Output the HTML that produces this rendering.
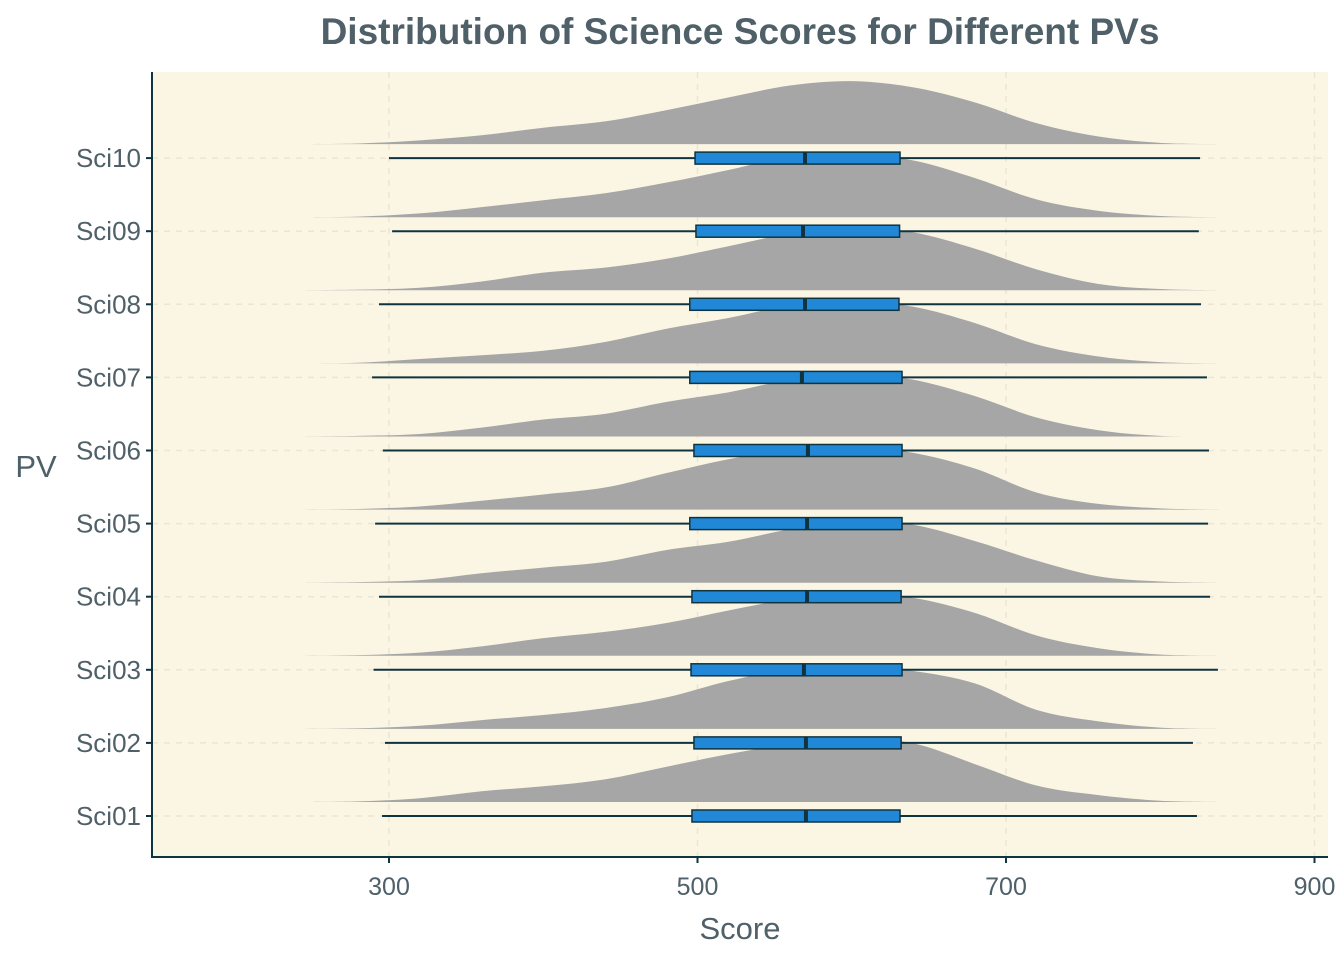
<!DOCTYPE html>
<html><head><meta charset="utf-8"><style>
body{margin:0;background:#fff;}
svg text{font-family:"Liberation Sans",sans-serif;}
</style></head><body>
<svg id="chart" width="1344" height="960">
<text x="740" y="44" text-anchor="middle" font-size="37" font-weight="bold" fill="#4f6069">Distribution of Science Scores for Different PVs</text>
<rect x="152" y="72" width="1176" height="785" fill="#fbf5e3"/>
<g id="grid"></g><g id="marks"></g><g id="axes"></g>
<text x="740" y="939" text-anchor="middle" font-size="31" fill="#4f6069">Score</text>
<text x="36" y="477" text-anchor="middle" font-size="31" fill="#4f6069">PV</text>
</svg>
<script>
const categories=["Sci01","Sci02","Sci03","Sci04","Sci05","Sci06","Sci07","Sci08","Sci09","Sci10"];
const mins=[295.5,297.4,290,293.5,291,296,289,293.5,302,300];
const q1s=[496.4,497.7,495.8,496.4,495,497.7,495,495,499,498.4];
const medians=[570.3,570.3,569,571,571,571.6,567.7,569.7,568.4,569.7];
const q3s=[631.3,632,632.6,632,632.6,632.6,632.6,630.6,631,631.3];
const maxs=[823.8,821.2,837.4,832.3,831,831.6,830.3,826.4,825,825.8];
const xTicks=[300,500,700,900];
// density profiles at scores 240..840 step 40 (relative heights)
const densScores=[240,280,320,360,400,440,480,520,560,600,640,680,720,760,800,840];
const densities=[
[0,0.01,0.06,0.17,0.25,0.36,0.56,0.76,0.92,1.0,0.93,0.6,0.26,0.11,0.02,0],
[0,0.01,0.05,0.14,0.22,0.33,0.5,0.76,0.95,1.0,0.92,0.72,0.3,0.12,0.02,0],
[0,0.01,0.05,0.15,0.28,0.38,0.52,0.72,0.9,1.0,0.92,0.68,0.32,0.12,0.02,0],
[0,0.01,0.04,0.15,0.24,0.33,0.52,0.65,0.85,1.0,0.92,0.66,0.35,0.1,0.02,0],
[0,0.01,0.05,0.14,0.24,0.35,0.58,0.8,0.96,1.0,0.9,0.65,0.27,0.09,0.02,0],
[0,0.01,0.04,0.14,0.27,0.36,0.55,0.7,0.9,1.0,0.9,0.64,0.3,0.1,0.01,0],
[0,0.01,0.07,0.13,0.2,0.34,0.55,0.72,0.92,1.0,0.9,0.64,0.3,0.11,0.02,0],
[0,0.01,0.04,0.14,0.28,0.36,0.5,0.7,0.9,1.0,0.92,0.66,0.33,0.1,0.02,0],
[0,0.01,0.06,0.16,0.27,0.38,0.55,0.75,0.96,1.0,0.9,0.62,0.28,0.1,0.02,0],
[0,0.01,0.06,0.14,0.26,0.36,0.54,0.74,0.93,1.0,0.9,0.66,0.33,0.12,0.02,0]];
const NS="http://www.w3.org/2000/svg";
function xS(v){return 389+(v-300)*1.5425;}
function yS(i){return 816-i*73.1;}
function mk(t,a,p){const e=document.createElementNS(NS,t);for(const k in a)e.setAttribute(k,a[k]);p.appendChild(e);return e;}
const grid=document.getElementById('grid'),marks=document.getElementById('marks'),axes=document.getElementById('axes');
xTicks.forEach(t=>{const g=mk('line',{x1:xS(t),x2:xS(t),y1:72,y2:857,stroke:'#ebe5d3','stroke-width':1.5,'stroke-dasharray':'6,6'},grid);

});
categories.forEach((c,i)=>{const g=mk('line',{x1:152,x2:1328,y1:yS(i),y2:yS(i),stroke:'#ebe5d3','stroke-width':1.5,'stroke-dasharray':'6,6'},grid);

});
categories.forEach((c,i)=>{
 const base=yS(i)-14, H=63;
 const pts=densScores.map((s,j)=>[xS(s),base-densities[i][j]*H]);
 let d=`M${pts[0][0]},${base} L${pts[0][0]},${pts[0][1]}`;
 for(let j=0;j<pts.length-1;j++){const p0=pts[Math.max(0,j-1)],p1=pts[j],p2=pts[j+1],p3=pts[Math.min(pts.length-1,j+2)];
  d+=` C${p1[0]+(p2[0]-p0[0])/6},${p1[1]+(p2[1]-p0[1])/6} ${p2[0]-(p3[0]-p1[0])/6},${p2[1]-(p3[1]-p1[1])/6} ${p2[0]},${p2[1]}`;}
 d+=` L${pts[pts.length-1][0]},${base} Z`;
 const den=mk('path',{d:d,fill:'#a6a6a6'},marks);
 
 
 const y=yS(i);
 const w=mk('line',{x1:xS(mins[i]),x2:xS(maxs[i]),y1:y,y2:y,stroke:'#0f3440','stroke-width':2},marks);
 
 
 const b=mk('rect',{x:xS(q1s[i]),y:y-6,width:xS(q3s[i])-xS(q1s[i]),height:12,fill:'#2088d6',stroke:'#0f3440','stroke-width':1.5},marks);
 
 
 const m=mk('line',{x1:xS(medians[i]),x2:xS(medians[i]),y1:y-6,y2:y+6,stroke:'#0f3440','stroke-width':4},marks);
 
 
 const t=mk('text',{x:141,y:y+9,'text-anchor':'end','font-size':26,fill:'#4f6069'},axes);t.textContent=c;
 
 
 mk('line',{x1:146,x2:152,y1:y,y2:y,stroke:'#0f3440','stroke-width':2},axes);
});
const ax=mk('path',{d:'M152,72 L152,857 L1328,857',fill:'none',stroke:'#0f3440','stroke-width':2},axes);


xTicks.forEach(t=>{mk('line',{x1:xS(t),x2:xS(t),y1:857,y2:863,stroke:'#0f3440','stroke-width':2},axes);
 const l=mk('text',{x:xS(t),y:895,'text-anchor':'middle','font-size':25,fill:'#4f6069'},axes);l.textContent=t;
 
 });
</script>
</body></html>
